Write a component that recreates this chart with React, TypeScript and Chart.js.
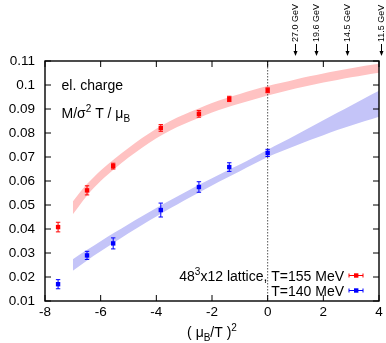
import React, { useEffect, useRef } from 'react';
import { Chart, registerables } from 'chart.js';

Chart.register(...registerables);

const FONT = '"Liberation Sans", Arial, Helvetica, sans-serif';

// lattice data points
const muX = [-7.53, -6.49, -5.55, -3.84, -2.47, -1.38, 0];
const redY = [0.0408, 0.0561, 0.0662, 0.0821, 0.088, 0.0942, 0.0978];
const redErr = [0.002, 0.0019, 0.0012, 0.0014, 0.0014, 0.0011, 0.001];
const blueY = [0.017, 0.029, 0.034, 0.0479, 0.0575, 0.0658, 0.0717];
const blueErr = [0.0019, 0.0017, 0.0023, 0.0029, 0.0022, 0.0018, 0.0015];

// bands
const bandX = [-7, -6.5, -6, -5.5, -5, -4.5, -4, -3.5, -3, -2.5, -2, -1.5, -1, -0.5, 0, 0.5, 1, 1.5, 2, 2.5, 3, 3.5, 4];
const redUpper = [0.0515, 0.0586, 0.0644, 0.0693, 0.0738, 0.078, 0.0818, 0.085, 0.0877, 0.0901, 0.0925, 0.0945, 0.0963, 0.098, 0.0996, 0.1009, 0.1023, 0.1036, 0.1048, 0.1059, 0.107, 0.108, 0.1089];
const redLower = [0.0461, 0.0538, 0.06, 0.0651, 0.0698, 0.074, 0.0778, 0.081, 0.0837, 0.0861, 0.0885, 0.0905, 0.0923, 0.094, 0.0956, 0.0971, 0.0985, 0.0998, 0.101, 0.1021, 0.1032, 0.1042, 0.1051];
const blueUpper = [0.0274, 0.0312, 0.0349, 0.0385, 0.042, 0.0454, 0.0488, 0.052, 0.0551, 0.0582, 0.0611, 0.0641, 0.0669, 0.0699, 0.073, 0.076, 0.0791, 0.0822, 0.0853, 0.0884, 0.0915, 0.0946, 0.0976];
const blueLower = [0.0226, 0.0268, 0.0307, 0.0345, 0.0382, 0.0418, 0.0452, 0.0486, 0.0519, 0.055, 0.0581, 0.0611, 0.0641, 0.0671, 0.07, 0.0724, 0.0747, 0.077, 0.0791, 0.0812, 0.0831, 0.085, 0.0868];

// top axis energies
const energyLabels = ['27.0 GeV', '19.6 GeV', '14.5 GeV', '11.5 GeV'];
const energyX = [0.98, 1.72, 2.86, 4.07];

// axes
const xMin = -8, xMax = 4, xStep = 2;
const yMin = 0.01, yMax = 0.11, yStep = 0.01;

const legendLabels = ['T=155 MeV', 'T=140 MeV'];
const RED = '#ff0000';
const BLUE = '#0000ff';

type Part = { text: string; size: number; dy?: number };

function drawRich(ctx: CanvasRenderingContext2D, parts: Part[], x: number, y: number, align: 'left' | 'right' | 'center') {
  let total = 0;
  for (const p of parts) {
    ctx.font = `${p.size}px ${FONT}`;
    total += ctx.measureText(p.text).width;
  }
  let cx = align === 'right' ? x - total : align === 'center' ? x - total / 2 : x;
  ctx.textAlign = 'left';
  ctx.textBaseline = 'alphabetic';
  for (const p of parts) {
    ctx.font = `${p.size}px ${FONT}`;
    ctx.fillText(p.text, cx, y + (p.dy || 0));
    cx += ctx.measureText(p.text).width;
  }
}

function errBar(ctx: CanvasRenderingContext2D, x: number, y1: number, y2: number, cap: number) {
  ctx.beginPath();
  ctx.moveTo(x, y1);
  ctx.lineTo(x, y2);
  ctx.moveTo(x - cap, y1);
  ctx.lineTo(x + cap, y1);
  ctx.moveTo(x - cap, y2);
  ctx.lineTo(x + cap, y2);
  ctx.stroke();
}

const decor = {
  id: 'decor',
  beforeDatasetDraw(chart: any, args: any) {
    if (args.index !== 1) return;
    const ctx = chart.ctx;
    const xs = chart.scales.x;
    const area = chart.chartArea;
    const px = xs.getPixelForValue(0);
    ctx.save();
    ctx.strokeStyle = '#555';
    ctx.lineWidth = 1;
    ctx.setLineDash([1.5, 1.5]);
    ctx.beginPath();
    ctx.moveTo(px, area.top);
    ctx.lineTo(px, area.bottom);
    ctx.stroke();
    ctx.restore();
  },
  afterDatasetsDraw(chart: any) {
    const ctx = chart.ctx;
    const xs = chart.scales.x;
    const ys = chart.scales.y;
    ctx.save();
    ctx.lineWidth = 1;
    const sets: [number[], number[], string][] = [
      [redY, redErr, RED],
      [blueY, blueErr, BLUE],
    ];
    for (const [vals, errs, col] of sets) {
      ctx.strokeStyle = col;
      vals.forEach((v, i) => {
        const px = xs.getPixelForValue(muX[i]);
        errBar(ctx, px, ys.getPixelForValue(v + errs[i]), ys.getPixelForValue(v - errs[i]), 2.2);
      });
    }
    ctx.restore();
  },
  afterDraw(chart: any) {
    const ctx = chart.ctx;
    const xs = chart.scales.x;
    const ys = chart.scales.y;
    const a = chart.chartArea;
    ctx.save();
    // frame
    ctx.strokeStyle = '#000';
    ctx.lineWidth = 1.4;
    ctx.strokeRect(a.left, a.top, a.right - a.left, a.bottom - a.top);
    // ticks (mirrored, inward)
    ctx.lineWidth = 1;
    ctx.beginPath();
    for (const t of ys.ticks) {
      const py = ys.getPixelForValue(t.value);
      ctx.moveTo(a.left, py);
      ctx.lineTo(a.left + 6, py);
      ctx.moveTo(a.right, py);
      ctx.lineTo(a.right - 6, py);
    }
    for (const t of xs.ticks) {
      const px = xs.getPixelForValue(t.value);
      ctx.moveTo(px, a.bottom);
      ctx.lineTo(px, a.bottom - 6);
      ctx.moveTo(px, a.top);
      ctx.lineTo(px, a.top + 6);
    }
    ctx.stroke();

    ctx.fillStyle = '#000';
    // annotations
    drawRich(ctx, [{ text: 'el. charge', size: 14 }], 61.5, 90, 'left');
    drawRich(ctx, [
      { text: 'M/σ', size: 14 },
      { text: '2', size: 10, dy: -6 },
      { text: ' T / μ', size: 14 },
      { text: 'B', size: 10, dy: 4 },
    ], 61.5, 118, 'left');

    // legend
    const legRight = 344;
    drawRich(ctx, [
      { text: '48', size: 14 },
      { text: '3', size: 10, dy: -6 },
      { text: 'x12 lattice, ' + legendLabels[0], size: 14 },
    ], legRight, 280.5, 'right');
    drawRich(ctx, [{ text: legendLabels[1], size: 14 }], legRight, 295.5, 'right');
    const samples: [number, string][] = [[275.5, RED], [290.5, BLUE]];
    for (const [sy, col] of samples) {
      ctx.strokeStyle = col;
      ctx.fillStyle = col;
      ctx.lineWidth = 1;
      ctx.beginPath();
      ctx.moveTo(349, sy);
      ctx.lineTo(363, sy);
      ctx.moveTo(349, sy - 2);
      ctx.lineTo(349, sy + 2);
      ctx.moveTo(363, sy - 2);
      ctx.lineTo(363, sy + 2);
      ctx.stroke();
      ctx.fillRect(354, sy - 2.2, 4.4, 4.4);
    }

    // x-axis title
    ctx.fillStyle = '#000';
    drawRich(ctx, [
      { text: '( μ', size: 14 },
      { text: 'B', size: 10, dy: 3.5 },
      { text: '/T )', size: 14 },
      { text: '2', size: 10, dy: -6 },
    ], (a.left + a.right) / 2, 337, 'center');

    // top energy arrows
    ctx.strokeStyle = '#000';
    ctx.fillStyle = '#000';
    ctx.lineWidth = 1;
    energyX.forEach((v, i) => {
      const px = Math.round(xs.getPixelForValue(v)) + 0.5;
      ctx.beginPath();
      ctx.moveTo(px, 44);
      ctx.lineTo(px, 53);
      ctx.stroke();
      ctx.beginPath();
      ctx.moveTo(px - 2, 51);
      ctx.lineTo(px + 2, 51);
      ctx.lineTo(px, 56);
      ctx.closePath();
      ctx.fill();
      ctx.save();
      ctx.translate(px + 0.5, 42);
      ctx.rotate(-Math.PI / 2);
      ctx.font = `9px ${FONT}`;
      ctx.textAlign = 'left';
      ctx.textBaseline = 'middle';
      ctx.fillText(energyLabels[i], 0, 0);
      ctx.restore();
    });
    ctx.restore();
  },
};

export default function App() {
  const ref = useRef<HTMLCanvasElement | null>(null);
  useEffect(() => {
    if (!ref.current) return;
    const pts = (ys: number[]) => muX.map((x, i) => ({ x, y: ys[i] }));
    const band = (ys: number[]) => bandX.map((x, i) => ({ x, y: ys[i] }));
    const chart = new Chart(ref.current, {
      type: 'line',
      data: {
        datasets: [
          { label: 'red', data: pts(redY), showLine: false, pointStyle: 'rect', pointRadius: 3.1, backgroundColor: RED, borderColor: RED, borderWidth: 0 },
          { label: 'blue', data: pts(blueY), showLine: false, pointStyle: 'rect', pointRadius: 3.1, backgroundColor: BLUE, borderColor: BLUE, borderWidth: 0 },
          { label: 'rl', data: band(redLower), pointRadius: 0, borderWidth: 0, fill: false, cubicInterpolationMode: 'monotone' },
          { label: 'ru', data: band(redUpper), pointRadius: 0, borderWidth: 0, fill: '-1', backgroundColor: '#ffc2c2', cubicInterpolationMode: 'monotone' },
          { label: 'bl', data: band(blueLower), pointRadius: 0, borderWidth: 0, fill: false, cubicInterpolationMode: 'monotone' },
          { label: 'bu', data: band(blueUpper), pointRadius: 0, borderWidth: 0, fill: '-1', backgroundColor: '#c4c4f8', cubicInterpolationMode: 'monotone' },
        ] as any,
      },
      options: {
        animation: false,
        responsive: false,
        devicePixelRatio: 1,
        layout: { padding: { top: 61, right: 7, left: 0, bottom: 0 } },
        plugins: { legend: { display: false }, tooltip: { enabled: false } },
        scales: {
          x: {
            type: 'linear',
            min: xMin,
            max: xMax,
            grid: { display: false, drawTicks: false },
            border: { display: false },
            ticks: {
              stepSize: xStep,
              padding: 3,
              color: '#000',
              font: { family: FONT, size: 13.5 },
              callback: (v: any) => String(v),
            },
            afterFit: (s: any) => { s.height = 42; },
          },
          y: {
            type: 'linear',
            min: yMin,
            max: yMax,
            grid: { display: false, drawTicks: false },
            border: { display: false },
            ticks: {
              stepSize: yStep,
              padding: 10,
              color: '#000',
              font: { family: FONT, size: 13.5 },
              callback: (v: any) => String(parseFloat(Number(v).toFixed(2))),
            },
            afterFit: (s: any) => { s.width = 45; },
          },
        },
      } as any,
      plugins: [decor],
    });
    return () => chart.destroy();
  }, []);
  return (
    <div style={{ position: 'fixed', left: 0, top: 0, width: 386, height: 343, background: '#fff' }}>
      <canvas ref={ref} width={386} height={343} />
    </div>
  );
}
